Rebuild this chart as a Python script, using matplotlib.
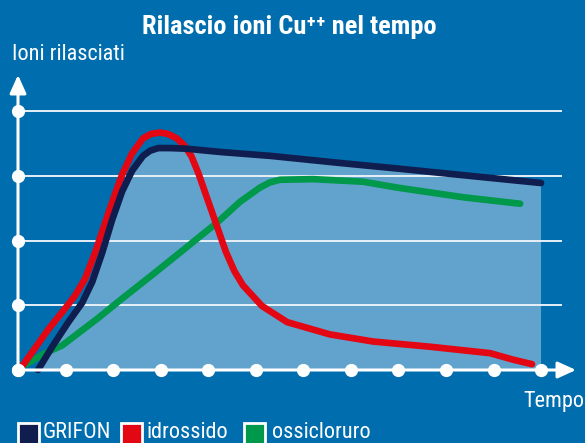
import matplotlib
matplotlib.use("Agg")
import matplotlib.pyplot as plt
from matplotlib.patches import Rectangle, Polygon

# ---- data ----
x_ticks = list(range(12))
y_ticks = [0, 1, 2, 3, 4]

grifon_x = [0.42, 0.72, 1.05, 1.35, 1.56, 1.77, 1.98, 2.19, 2.40, 2.63, 2.78, 2.95, 3.20, 3.55, 4.25, 5.30, 6.77, 8.03, 9.51, 11.0]
grifon_y = [0.00, 0.36, 0.73, 1.04, 1.36, 1.81, 2.32, 2.76, 3.08, 3.31, 3.39, 3.43, 3.43, 3.42, 3.37, 3.31, 3.20, 3.11, 3.00, 2.89]

idro_x = [0.08, 0.36, 0.63, 0.99, 1.20, 1.41, 1.62, 1.83, 2.04, 2.19, 2.40, 2.63, 2.80, 2.99, 3.15, 3.34, 3.50, 3.65, 3.80, 3.97,
          4.19, 4.37, 4.55, 4.73, 5.13, 5.66, 6.56, 7.47, 8.66, 9.93, 10.41, 10.81]
idro_y = [0.05, 0.34, 0.62, 0.95, 1.15, 1.41, 1.81, 2.27, 2.72, 3.02, 3.35, 3.58, 3.65, 3.67, 3.65, 3.58, 3.47, 3.30, 3.03, 2.67,
          2.21, 1.83, 1.53, 1.31, 0.99, 0.74, 0.55, 0.44, 0.36, 0.26, 0.16, 0.09]

ossi_x = [0.15, 0.57, 0.93, 1.68, 2.15, 2.84, 3.55, 4.19, 4.67, 5.09, 5.30, 5.51, 6.20, 7.26, 7.97, 9.36, 10.56]
ossi_y = [0.08, 0.26, 0.38, 0.80, 1.08, 1.48, 1.90, 2.28, 2.60, 2.82, 2.90, 2.94, 2.95, 2.91, 2.82, 2.67, 2.57]

series_names = ["GRIFON", "idrossido", "ossicloruro"]
title = "Rilascio ioni Cu\u207a\u207a nel tempo"
ylabel = "Ioni rilasciati"
xlabel = "Tempo"

# ---- style ----
BG = "#006DAE"
FILL = "#62A3CD"
NAVY = "#0F1E4E"
RED = "#E30613"
GREEN = "#00984A"
W = 585
H = 443
X0, XS = 18.0, 47.55   # pixel origin / pixel per unit
Y0, YS = 370.0, 64.7

fig = plt.figure(figsize=(W / 100, H / 100), dpi=100, facecolor=BG)
ax = fig.add_axes([0, 0, 1, 1])
ax.set_facecolor(BG)
ax.set_xlim(-X0 / XS, (W - X0) / XS)
ax.set_ylim(-(H - Y0) / YS, Y0 / YS)
ax.axis("off")

narrow = dict(family=["Roboto Condensed", "DejaVu Sans"], stretch="condensed")

# fill under GRIFON
poly = list(zip(grifon_x, grifon_y)) + [(grifon_x[-1], 0), (grifon_x[0], 0)]
ax.add_patch(Polygon(poly, closed=True, facecolor=FILL, edgecolor="none", zorder=1))

# grid lines
xmax_grid = (561 - X0) / XS
for yv in y_ticks[1:]:
    ax.plot([0, xmax_grid], [yv, yv], color="#E6F0F7", lw=1.4, zorder=2)

# axes
ax.annotate("", xy=(0, (Y0 - 75) / YS), xytext=(0, -0.02),
            arrowprops=dict(arrowstyle="-|>,head_length=1.1,head_width=0.5", color="white", lw=2.2,
                            shrinkA=0, shrinkB=0), zorder=5)
ax.annotate("", xy=((576 - X0) / XS, 0), xytext=(0, 0),
            arrowprops=dict(arrowstyle="-|>,head_length=1.1,head_width=0.5", color="white", lw=2.2,
                            shrinkA=0, shrinkB=0), zorder=5)
ax.plot(x_ticks, [0] * len(x_ticks), "o", color="white", ms=8.5, zorder=6, clip_on=False)
ax.plot([0] * len(y_ticks), y_ticks, "o", color="white", ms=8.5, zorder=6, clip_on=False)

# curves
kw = dict(lw=4.8, solid_capstyle="round", solid_joinstyle="round", antialiased=True)
ax.plot(ossi_x, ossi_y, color=GREEN, zorder=3, **kw)
ax.plot(idro_x, idro_y, color=RED, zorder=4, **kw)
ax.plot(grifon_x, grifon_y, color=NAVY, zorder=4, **kw)

# texts
fig.text(289 / W, 1 - 27 / H, title, ha="center", va="center", color="white",
         fontsize=19, fontweight="bold", family=["Roboto Condensed", "Roboto", "DejaVu Sans"])
fig.text(12 / W, 1 - 55 / H, ylabel, ha="left", va="center", color="white",
         fontsize=16, **narrow)
fig.text(584 / W, 1 - 401 / H, xlabel, ha="right", va="center", color="white",
         fontsize=16, **narrow)

# legend
leg_colors = [NAVY, RED, GREEN]
box_x = [18, 121, 244]
txt_x = [43, 147, 272]
for c, bx, tx, name in zip(leg_colors, box_x, txt_x, series_names):
    fig.patches.append(Rectangle((bx / W, 1 - 444 / H), 21 / W, 21 / H, transform=fig.transFigure,
                                 facecolor=c, edgecolor="white", lw=2.0, figure=fig))
    fig.text(tx / W, 1 - 432 / H, name, ha="left", va="center", color="white",
             fontsize=16, **narrow)

fig.savefig("out.png", dpi=100, facecolor=BG)
